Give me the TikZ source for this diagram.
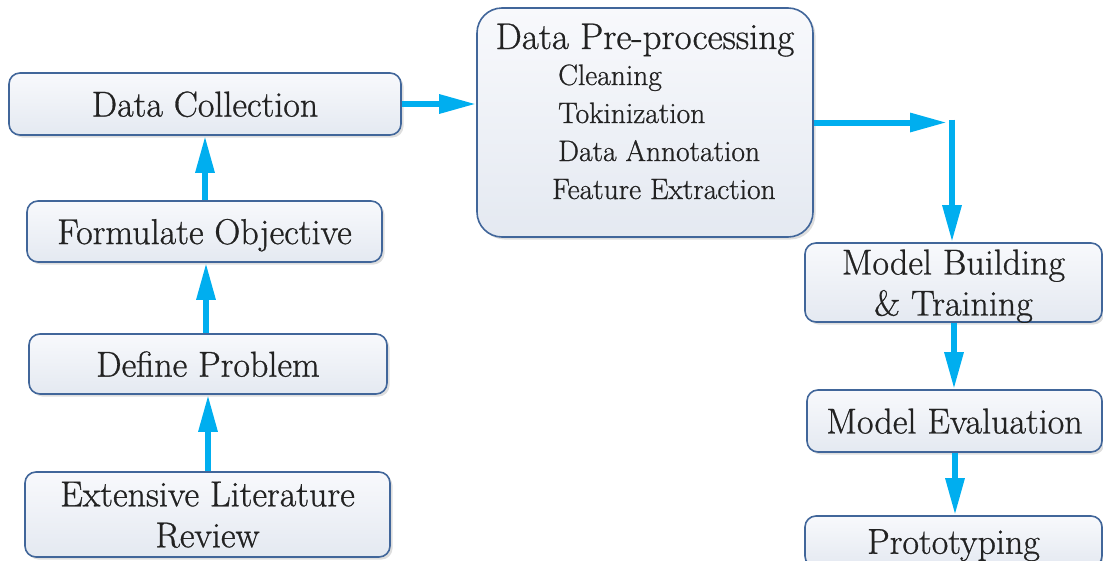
\documentclass[tikz,border=0pt]{standalone}
\usepackage{fontspec}
\setmainfont{Latin Modern Roman}[UprightFeatures={FakeBold=0.8}]
\usetikzlibrary{arrows.meta,shadows,calc}
\definecolor{boxline}{HTML}{41669A}
\definecolor{boxtop}{HTML}{F8F9FC}
\definecolor{boxbottom}{HTML}{E4E9F1}
\definecolor{flow}{HTML}{00AEEF}
\definecolor{ink}{HTML}{222222}
\tikzset{
  stepbox/.style={draw=boxline, line width=1.6pt, rounded corners=11pt,
    top color=boxtop, bottom color=boxbottom, text=ink,
    drop shadow={shadow xshift=2.5pt, shadow yshift=-2.5pt, fill=black, opacity=0.13},
    font=\fontsize{36}{41}\selectfont, align=center, inner sep=0pt,
    text depth=0pt},
  itemtext/.style={text=ink, font=\fontsize{29.5}{36}\selectfont, inner sep=0pt, anchor=base west},
  flowarrow/.style={draw=flow, line width=6pt,
    -{Triangle[length=37pt,width=18pt]}}
}
\begin{document}
\begin{tikzpicture}[x=1pt,y=-1pt]
\useasboundingbox (0,0) rectangle (1103,560);

% left column
\node[stepbox, minimum width=392pt, minimum height=62pt] (collect) at (205,104) {Data Collection};
\node[stepbox, minimum width=355pt, minimum height=61pt] (objective) at (204.5,231.5) {Formulate Objective};
\node[stepbox, minimum width=358pt, minimum height=60pt] (problem) at (208,364) {Define Problem};
\node[stepbox, minimum width=365pt, minimum height=85pt] (review) at (207.5,514.5) {Extensive Literature\\Review};

% pre-processing block
\node[stepbox, rounded corners=25pt, minimum width=336pt, minimum height=229pt] (prep) at (645,122.5) {};
\node[text=ink, font=\fontsize{37}{41}\selectfont, inner sep=0pt, anchor=base] (preptitle) at (645,49) {Data Pre-processing};
\node[itemtext] (clean) at (558,85) {Cleaning};
\node[itemtext] (token) at (558,123) {Tokinization};
\node[itemtext] (annot) at (558,161) {Data Annotation};
\node[itemtext] (feat) at (552,199) {Feature Extraction};

% right column
\node[stepbox, minimum width=297pt, minimum height=79pt] (model) at (953.5,282.5) {Model Building\\\& Training};
\node[stepbox, minimum width=295pt, minimum height=62pt] (eval) at (954.5,421) {Model Evaluation};
\node[stepbox, minimum width=297pt, minimum height=51pt] (proto) at (953.5,541.5) {Prototyping};

\coordinate (turnin) at (947,122.5);
\coordinate (turnout) at (952,119.5);

% connectors
\draw[flowarrow] (review.north -| 208,0) -- (problem.south -| 208,0);
\draw[flowarrow] (problem.north -| 206,0) -- (objective.south -| 206,0);
\draw[flowarrow] (objective.north -| 205,0) -- (collect.south -| 205,0);
\draw[flowarrow] (collect.east) -- (collect.east -| prep.west);
\draw[flowarrow] (prep.east) -- (turnin);
\draw[flowarrow] (turnout) -- (turnout |- model.north);
\draw[flowarrow] (model.south -| 954,0) -- (eval.north -| 954,0);
\draw[flowarrow] (eval.south -| 955,0) -- (proto.north -| 955,0);
\end{tikzpicture}
\end{document}
